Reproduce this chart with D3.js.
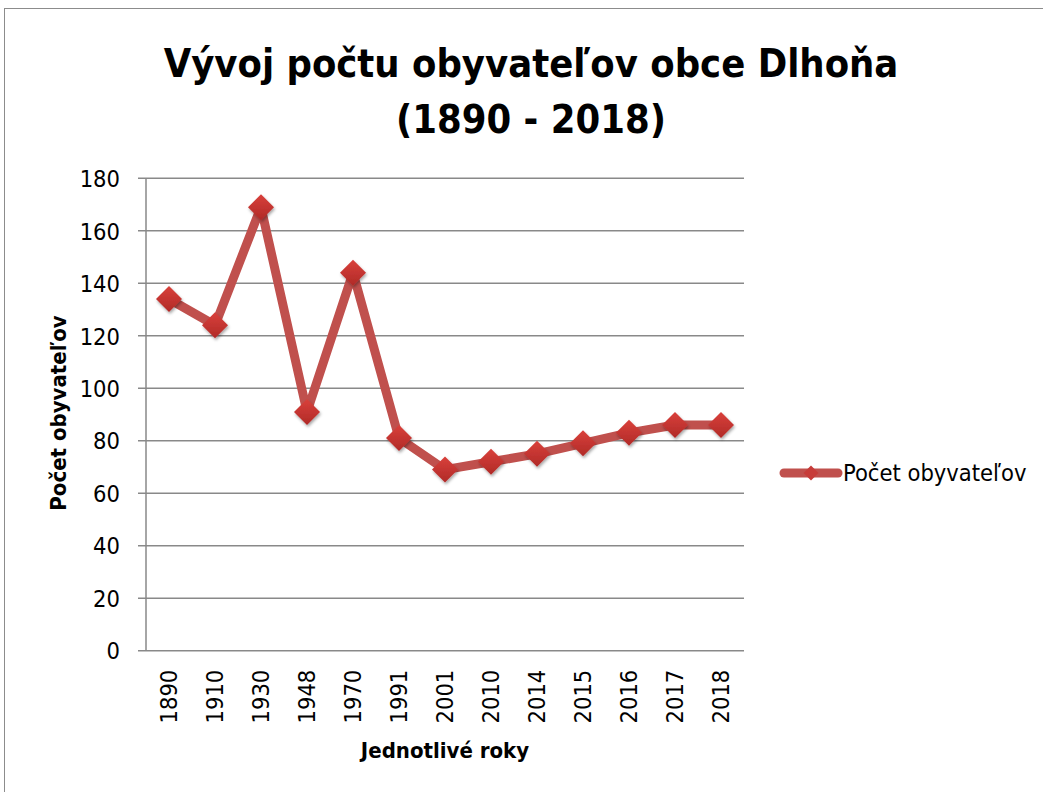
<!DOCTYPE html>
<html><head><meta charset="utf-8">
<script src="https://cdn.jsdelivr.net/npm/d3@7"></script>
<style>body{margin:0;background:#fff}svg{display:block}</style>
</head><body>
<script>
const title = ["Vývoj počtu obyvateľov obce Dlhoňa", "(1890 - 2018)"];
const years = ["1890","1910","1930","1948","1970","1991","2001","2010","2014","2015","2016","2017","2018"];
const population = [134,124,169,91,144,81,69,72,75,79,83,86,86];
const yTicks = [0,20,40,60,80,100,120,140,160,180];
const seriesName = "Počet obyvateľov";
const xTitle = "Jednotlivé roky";
const yTitle = "Počet obyvateľov";

const W = 1043, H = 792;
const font = "'Liberation Sans Narrow','DejaVu Sans Condensed','Liberation Sans',sans-serif";
const svg = d3.select("body").append("svg").attr("width", W).attr("height", H);

const defs = svg.append("defs");
const g1 = defs.append("linearGradient").attr("id","dg").attr("x1","0").attr("y1","0").attr("x2","0").attr("y2","1");
g1.append("stop").attr("offset","0").attr("stop-color","#d9403b");
g1.append("stop").attr("offset","1").attr("stop-color","#b02a27");
const f = defs.append("filter").attr("id","sh").attr("x","-50%").attr("y","-50%").attr("width","200%").attr("height","200%");
f.append("feDropShadow").attr("dx",1).attr("dy",2).attr("stdDeviation",1.5).attr("flood-color","#000").attr("flood-opacity",0.35);

// outer frame
svg.append("rect").attr("x",4.5).attr("y",8.5).attr("width",W+10).attr("height",H+10)
  .attr("fill","none").attr("stroke","#8c8c8c").attr("stroke-width",1);

const m = {l:146, r:744, t:178.3, b:650.7};
const x = d3.scaleBand().domain(years).range([m.l, m.r]);
const y = d3.scaleLinear().domain([0,180]).range([m.b, m.t]);

// title
svg.append("text").attr("x",531).attr("y",77).attr("text-anchor","middle")
  .attr("font-family",font).attr("font-weight","bold").attr("font-size",39.5).attr("fill","#000")
  .selectAll("tspan").data(title).join("tspan").attr("x",531).attr("dy",(d,i)=>i?56:0).text(d=>d);

// gridlines
svg.append("g").selectAll("line").data(yTicks).join("line")
  .attr("x1",m.l-8).attr("x2",m.r).attr("y1",d=>y(d)).attr("y2",d=>y(d))
  .attr("stroke","#898989").attr("stroke-width",1.5);

// y axis line
svg.append("line").attr("x1",m.l).attr("x2",m.l).attr("y1",m.t).attr("y2",m.b)
  .attr("stroke","#898989").attr("stroke-width",1.5);

// y axis labels
const yAxis = d3.axisLeft(y).tickValues(yTicks).tickSize(0).tickPadding(26);
const ya = svg.append("g").attr("transform",`translate(${m.l},0)`).call(yAxis);
ya.select(".domain").remove();
ya.selectAll("text").attr("font-family",font).attr("font-size",23.5).attr("fill","#000").attr("dy","0.35em");

// x axis labels
const xAxis = d3.axisBottom(x).tickSize(0).tickPadding(0);
const xa = svg.append("g").attr("transform",`translate(0,${m.b})`).call(xAxis);
xa.select(".domain").remove();
xa.selectAll("text").attr("font-family",font).attr("font-size",23.5).attr("fill","#000")
  .attr("text-anchor","end").attr("dy",null)
  .attr("transform",d=>`translate(0,19) rotate(-90)`).attr("x",0).attr("y",0).attr("dominant-baseline","central");

// axis titles
svg.append("text").attr("x",445).attr("y",758).attr("text-anchor","middle")
  .attr("font-family",font).attr("font-weight","bold").attr("font-size",22).text(xTitle);
svg.append("text").attr("transform","translate(66,413) rotate(-90)").attr("text-anchor","middle")
  .attr("font-family",font).attr("font-weight","bold").attr("font-size",22).text(yTitle);

// line
const cx = d => x(d) + x.bandwidth()/2;
const line = d3.line().x((d,i)=>cx(years[i])).y(d=>y(d));
svg.append("path").datum(population).attr("d",line).attr("fill","none")
  .attr("stroke","#c0504d").attr("stroke-width",9).attr("stroke-linejoin","round").attr("stroke-linecap","round");

const diamond = s => `M0,${-s}L${s},0L0,${s}L${-s},0Z`;
svg.append("g").selectAll("path").data(population).join("path")
  .attr("transform",(d,i)=>`translate(${cx(years[i])},${y(d)})`)
  .attr("d",diamond(13)).attr("fill","url(#dg)").attr("filter","url(#sh)");

// legend
const ly = 473;
svg.append("line").attr("x1",784).attr("x2",838).attr("y1",ly).attr("y2",ly)
  .attr("stroke","#c0504d").attr("stroke-width",9).attr("stroke-linecap","round");
svg.append("path").attr("transform",`translate(811,${ly})`).attr("d",diamond(7.5)).attr("fill","#c73c39");
svg.append("text").attr("x",843).attr("y",ly).attr("dy","0.35em")
  .attr("font-family",font).attr("font-size",23.5).text(seriesName);
</script>
</body></html>
